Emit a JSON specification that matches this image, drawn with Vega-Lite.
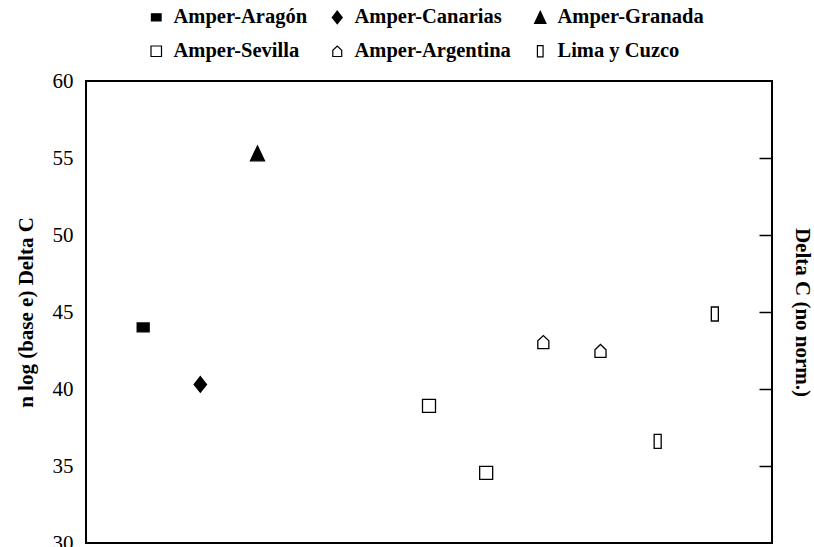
{
  "$schema": "https://vega.github.io/schema/vega-lite/v6.json",
  "width": 686,
  "height": 462,
  "autosize": "none",
  "padding": {"left": 86, "top": 81, "right": 42, "bottom": 4},
  "background": "white",
  "config": {
    "font": "Liberation Serif",
    "view": {"stroke": "black", "strokeWidth": 2},
    "axis": {"grid": false, "domain": false, "labelColor": "black", "titleColor": "black", "tickColor": "black"},
    "legend": {
      "title": null, "orient": "none", "legendX": 60, "legendY": -74,
      "columns": 3, "direction": "horizontal", "gridAlign": "each",
      "columnPadding": 19, "rowPadding": 13,
      "symbolSize": 110, "symbolStrokeWidth": 1.2,
      "labelFont": "Liberation Serif", "labelFontWeight": "bold", "labelFontSize": 20.5, "labelColor": "black", "labelOffset": 7, "labelLimit": 300
    }
  },
  "data": {
    "values": [
      {"group": "Amper-Aragón", "x": 1, "y": 44.0},
      {"group": "Amper-Canarias", "x": 2, "y": 40.3},
      {"group": "Amper-Granada", "x": 3, "y": 55.3},
      {"group": "Amper-Sevilla", "x": 6, "y": 38.9},
      {"group": "Amper-Sevilla", "x": 7, "y": 34.55},
      {"group": "Amper-Argentina", "x": 8, "y": 43.05},
      {"group": "Amper-Argentina", "x": 9, "y": 42.47},
      {"group": "Lima y Cuzco", "x": 10, "y": 36.6},
      {"group": "Lima y Cuzco", "x": 11, "y": 44.87}
    ]
  },
  "layer": [
    {
      "mark": {"type": "point", "filled": true, "strokeWidth": 1.3, "opacity": 1, "size": 169},
      "encoding": {
        "x": {
          "field": "x", "type": "quantitative",
          "scale": {"domain": [0, 12], "nice": false, "zero": false},
          "axis": {"values": [1, 2, 3, 4, 5, 6, 7, 8, 9, 10, 11], "labels": false, "tickSize": -13, "tickWidth": 1.5, "title": null}
        },
        "y": {
          "field": "y", "type": "quantitative",
          "scale": {"domain": [30, 60], "nice": false, "zero": false},
          "axis": {
            "orient": "left", "values": [30, 35, 40, 45, 50, 55, 60], "ticks": false,
            "labelFontSize": 21, "labelPadding": 13,
            "title": "n log (base e) Delta C", "titleFontSize": 21, "titleFontWeight": "bold", "titlePadding": 16
          }
        },
        "shape": {
          "field": "group", "type": "nominal",
          "scale": {
            "domain": ["Amper-Aragón", "Amper-Canarias", "Amper-Granada", "Amper-Sevilla", "Amper-Argentina", "Lima y Cuzco"],
            "range": [
              "M-0.92,-0.68H0.92V0.68H-0.92Z",
              "M0,-1.2L0.95,0L0,1.2L-0.95,0Z",
              "M0,-1.15L1.08,1.15H-1.08Z",
              "M-1,-1H1V1H-1Z",
              "M-0.85,1V-0.2L0,-1L0.85,-0.2V1Z",
              "M-0.54,-1.08H0.54V1.08H-0.54Z"
            ]
          }
        },
        "fill": {
          "field": "group", "type": "nominal",
          "scale": {
            "domain": ["Amper-Aragón", "Amper-Canarias", "Amper-Granada", "Amper-Sevilla", "Amper-Argentina", "Lima y Cuzco"],
            "range": ["black", "black", "black", "white", "white", "white"]
          }
        },
        "stroke": {
          "field": "group", "type": "nominal",
          "scale": {
            "domain": ["Amper-Aragón", "Amper-Canarias", "Amper-Granada", "Amper-Sevilla", "Amper-Argentina", "Lima y Cuzco"],
            "range": ["black", "black", "black", "black", "black", "black"]
          }
        }
      }
    },
    {
      "mark": {"type": "point", "opacity": 0},
      "encoding": {
        "x": {"field": "x", "type": "quantitative", "axis": null},
        "y": {
          "field": "y", "type": "quantitative",
          "axis": {
            "orient": "right", "values": [35, 40, 45, 50, 55], "labels": false, "tickSize": -13, "tickWidth": 1.5,
            "title": "Delta C (no norm.)", "titleFontSize": 21, "titleFontWeight": "bold", "titlePadding": 19
          }
        }
      }
    }
  ],
  "resolve": {"axis": {"y": "independent"}}
}
